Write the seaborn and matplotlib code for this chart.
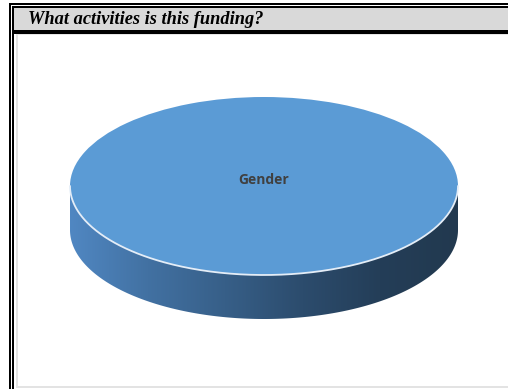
import numpy as np
import matplotlib
matplotlib.use("Agg")
import matplotlib.pyplot as plt
from matplotlib.patches import Rectangle, Polygon
from matplotlib.colors import LinearSegmentedColormap
import seaborn as sns

# Data: funded activities and their share
categories = ["Gender"]
shares = [100]
title = "What activities is this funding?"

sns.set_style("white")
plt.rcParams["font.family"] = ["DejaVu Sans"]

W, H = 508, 389
fig = plt.figure(figsize=(W / 100, H / 100), dpi=100)
fig.patch.set_facecolor("white")


def box(x0, y0, x1, y1, color):
    """Rectangle given in pixel coordinates measured from the top-left."""
    fig.add_artist(Rectangle((x0 / W, 1 - y1 / H), (x1 - x0) / W, (y1 - y0) / H,
                             transform=fig.transFigure, facecolor=color,
                             edgecolor="none", zorder=5))


# Form-style header and double rule on the left
box(9, 3, W, 5, "black")
box(12, 6, W, 7.5, "black")
box(14, 7.5, W, 30, "#d9d9d9")
box(14, 30, W, 34, "black")
box(9, 3, 11, H, "black")
box(12, 6, 14, H, "black")
# light chart-area frame
box(16, 34, W, 35, "#e6e6e6")
box(16, 34, 18, 388, "#e3e3e3")
box(16, 386, W, 388, "#e3e3e3")

fig.text(28 / W, 1 - 24.5 / H, title, fontsize=13.2, fontweight="bold",
         fontstyle="italic", family=["Liberation Serif", "DejaVu Serif"],
         va="baseline", ha="left", color="black", zorder=10)

# Pie axes mapped so the top face is an ellipse centred at (264, 186) px
cx, cy, a, b = 264, 186, 194, 89
left, right, top, bottom = 18, 508, 35, 386
ax = fig.add_axes([left / W, 1 - bottom / H, (right - left) / W, (bottom - top) / H])

palette = sns.color_palette(["#5b9bd5"])
wedges, _ = ax.pie(shares, colors=palette, startangle=90, radius=1,
                   wedgeprops=dict(linewidth=0), counterclock=False)
for w in wedges:
    w.set_zorder(3)

depth = 44 / b
t = np.linspace(np.pi, 2 * np.pi, 300)
xs, ys = np.cos(t), np.sin(t)
side_pts = np.column_stack([np.concatenate([xs, xs[::-1]]),
                            np.concatenate([ys, ys[::-1] - depth])])
side = Polygon(side_pts, closed=True, facecolor="none", edgecolor="none")
ax.add_patch(side)

shade = LinearSegmentedColormap.from_list(
    "side", ["#5087c2", "#4271a2", "#375f88", "#2c4c6d", "#243e58", "#22394f"])
grad = np.linspace(0, 1, 256)[None, :]
img = ax.imshow(grad, cmap=shade, extent=(-1, 1, -1 - depth, 0),
                aspect="auto", origin="lower", zorder=2, interpolation="bilinear")
img.set_clip_path(side)

# pale rim along the front edge of the top face
ax.plot(xs, ys, color="#e4edf7", lw=1.3, zorder=4, solid_capstyle="round")

for name, val in zip(categories, shares):
    ax.text(0, (cy - 180) / b, name, ha="center", va="center",
            fontsize=10, fontweight="bold", color="#404040",
            family=["Open Sans", "DejaVu Sans"], zorder=6)

ax.set_aspect("auto")
ax.set_xlim((left - cx) / a, (right - cx) / a)
ax.set_ylim((cy - bottom) / b, (cy - top) / b)
ax.axis("off")

fig.savefig("out.png", dpi=100)
